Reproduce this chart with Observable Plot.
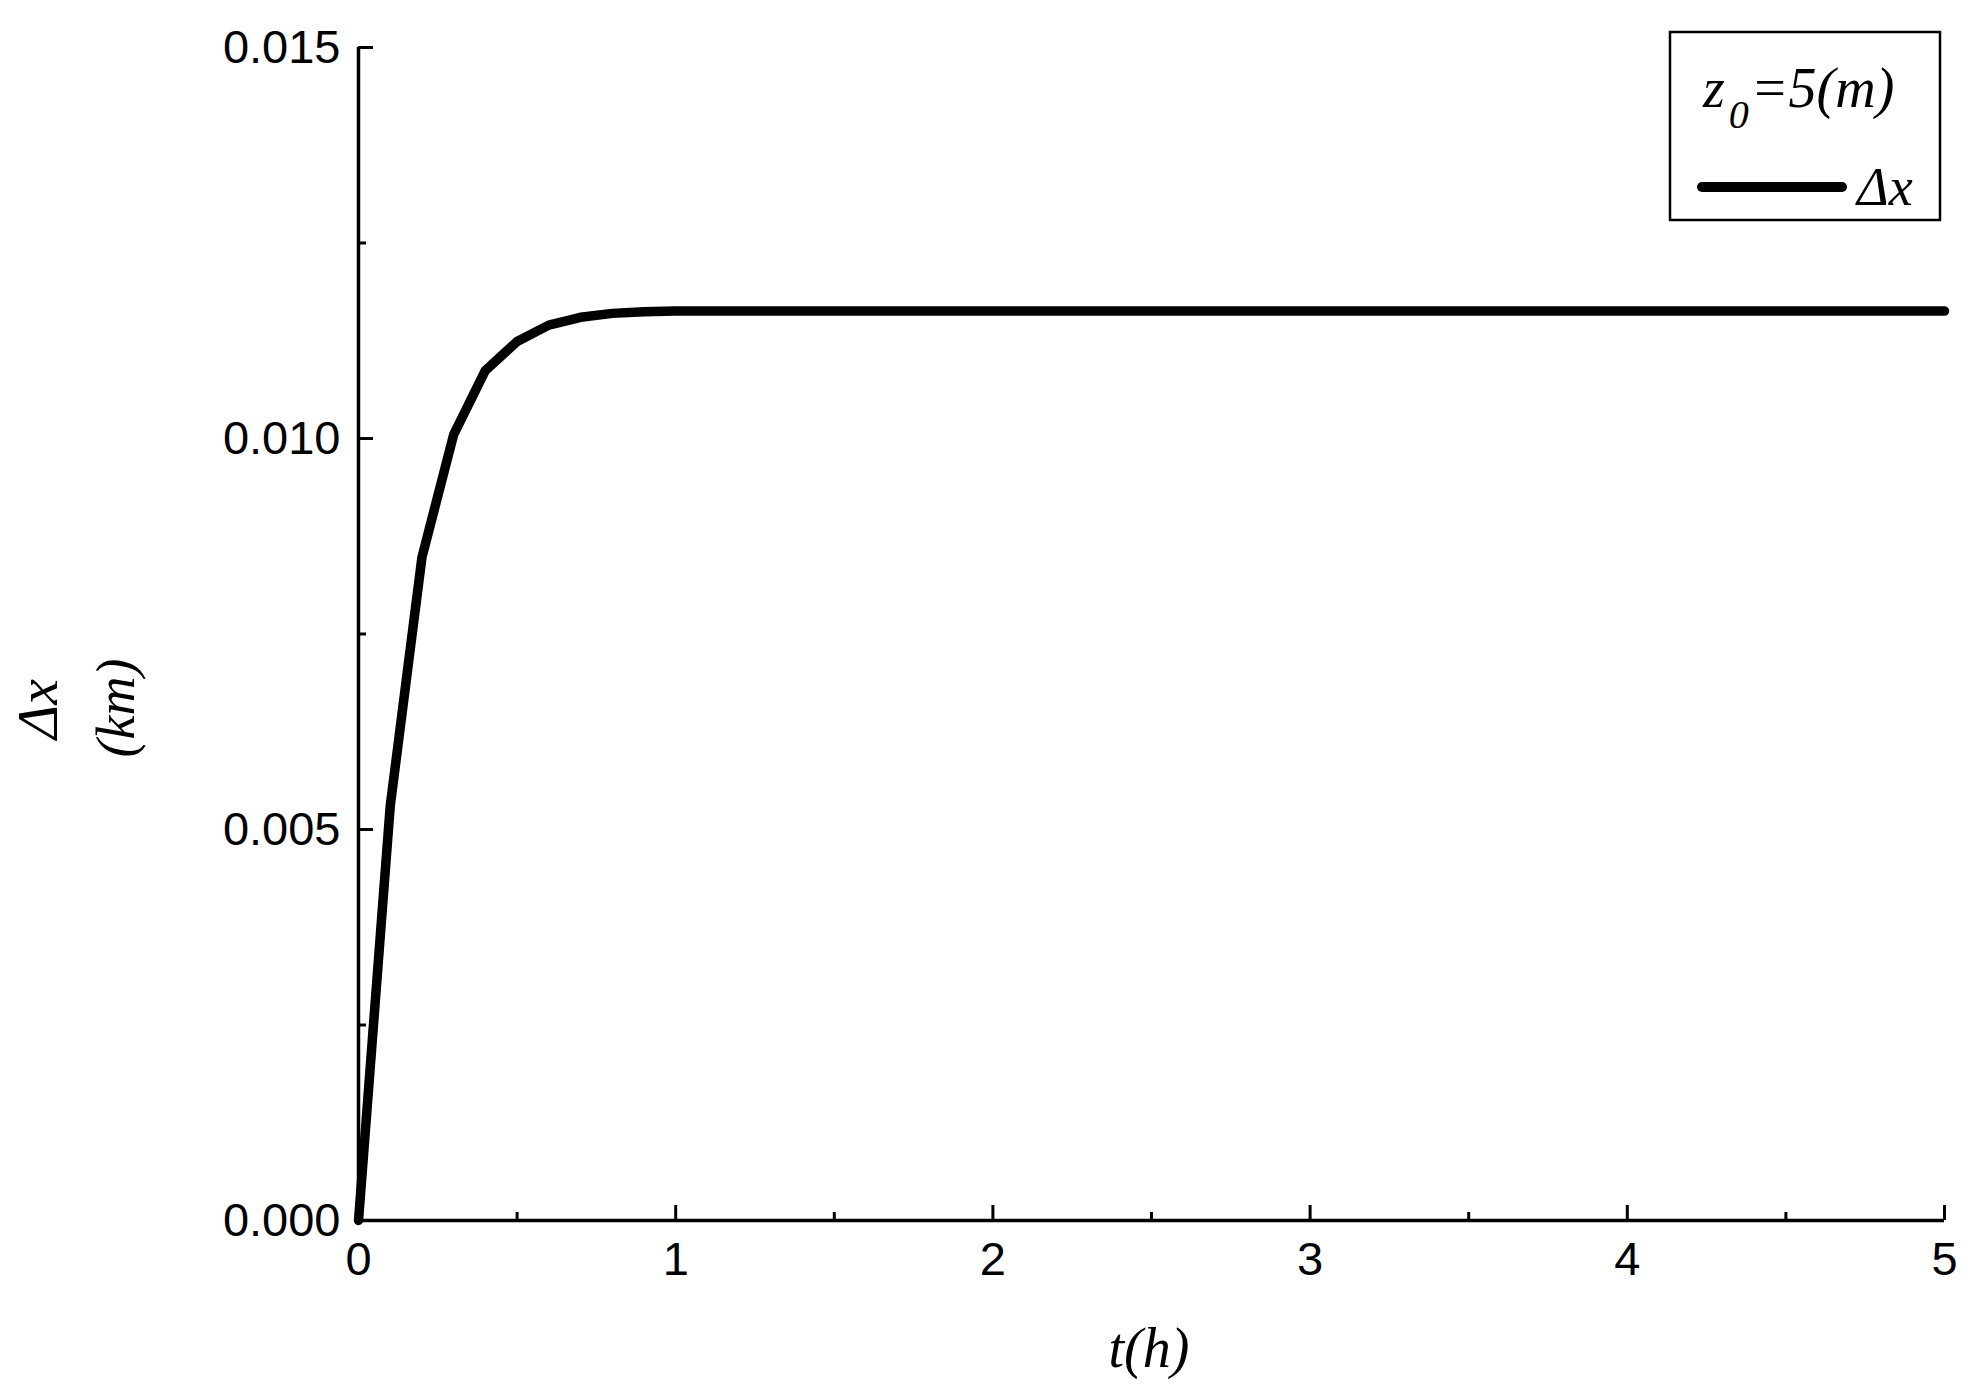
<!DOCTYPE html>
<html>
<head>
<meta charset="utf-8">
<script src="https://cdn.jsdelivr.net/npm/d3@7"></script>
<script src="https://cdn.jsdelivr.net/npm/@observablehq/plot@0.6"></script>
<style>
  html, body { margin: 0; padding: 0; background: #fff; }
  #chart { width: 1976px; height: 1398px; overflow: hidden; }
</style>
</head>
<body>
<div id="chart"></div>
<script>
// ---- data ----
const tValues  = [0, 0.1, 0.2, 0.3, 0.4, 0.5, 0.6, 0.7, 0.8, 0.9, 1.0, 1.5, 2.0, 2.5, 3.0, 3.5, 4.0, 4.5, 5.0];
const dxValues = [0, 0.00530, 0.00848, 0.01005, 0.01087, 0.01124, 0.01145, 0.01155, 0.01160, 0.01162, 0.01163,
                  0.01163, 0.01163, 0.01163, 0.01163, 0.01163, 0.01163, 0.01163, 0.01163];
const xMajorTicks = [0, 1, 2, 3, 4, 5];
const xMinorTicks = [0.5, 1.5, 2.5, 3.5, 4.5];
const yMajorTicks = [0, 0.005, 0.010, 0.015];
const yMinorTicks = [0.0025, 0.0075, 0.0125];
const xTitle = "t(h)";
const yTitleLines = ["Δx", "(km)"];
const legendHeader = {base: "z", sub: "0", rest: "=5(m)"};
const legendSeries = "Δx";

const data = tValues.map((t, i) => ({t, v: dxValues[i]}));

const W = 1976, H = 1398;
const mL = 358, mR = 32, mT = 47, mB = 178;
const plotW = W - mL - mR, plotH = H - mT - mB;

const chart = Plot.plot({
  width: W, height: H,
  marginLeft: mL, marginRight: mR, marginTop: mT, marginBottom: mB,
  style: {background: "#fff", color: "#000", fontFamily: "'Liberation Sans', Arial, sans-serif", fontSize: "47px"},
  x: {domain: [0, 5]},
  y: {domain: [0, 0.015]},
  marks: [
    Plot.axisX({ticks: xMajorTicks, tickSize: 0, tickPadding: 21, tickFormat: d => String(d), label: null, fontSize: 47}),
    Plot.axisY({ticks: yMajorTicks, tickSize: 0, tickPadding: 18, tickFormat: d3.format(".3f"), label: null, fontSize: 47}),
    Plot.tickX(xMajorTicks, {x: d => d, insetTop: plotH - 15, stroke: "#000", strokeWidth: 3}),
    Plot.tickX(xMinorTicks, {x: d => d, insetTop: plotH - 8, stroke: "#000", strokeWidth: 3}),
    Plot.tickY(yMajorTicks, {y: d => d, insetRight: plotW - 15, stroke: "#000", strokeWidth: 3}),
    Plot.tickY(yMinorTicks, {y: d => d, insetRight: plotW - 8, stroke: "#000", strokeWidth: 3}),
    Plot.ruleX([0], {stroke: "#000", strokeWidth: 3.5}),
    Plot.ruleY([0], {stroke: "#000", strokeWidth: 3.5}),
    Plot.line(data, {x: "t", y: "v", stroke: "#000", strokeWidth: 9.5, strokeLinejoin: "round"})
  ]
});

document.getElementById("chart").appendChild(chart);

// ---- titles and legend ----
const svg = d3.select(chart);
const serif = "'Liberation Serif', 'Times New Roman', serif";

svg.append("text")
  .attr("x", 1149).attr("y", 1367)
  .attr("text-anchor", "middle")
  .style("font-family", serif).style("font-style", "italic").style("font-size", "56px")
  .attr("fill", "#000")
  .text(xTitle);

svg.append("text")
  .attr("transform", "translate(57,709) rotate(-90)")
  .attr("text-anchor", "middle")
  .style("font-family", serif).style("font-style", "italic").style("font-size", "58px")
  .attr("fill", "#000")
  .text(yTitleLines[0]);

svg.append("text")
  .attr("transform", "translate(134,708) rotate(-90)")
  .attr("text-anchor", "middle")
  .style("font-family", serif).style("font-style", "italic").style("font-size", "54px")
  .attr("fill", "#000")
  .text(yTitleLines[1]);

const lg = svg.append("g");
lg.append("rect")
  .attr("x", 1670).attr("y", 32).attr("width", 270).attr("height", 188)
  .attr("fill", "#fff").attr("stroke", "#000").attr("stroke-width", 2.5);

const hdr = lg.append("text")
  .attr("x", 1703).attr("y", 107)
  .attr("text-anchor", "start")
  .style("font-family", serif).style("font-style", "italic").style("font-size", "56px")
  .attr("fill", "#000");
hdr.append("tspan").text(legendHeader.base);
hdr.append("tspan").attr("dy", 21).attr("dx", 4).style("font-size", "40px").text(legendHeader.sub);
hdr.append("tspan").attr("dy", -21).attr("dx", 2).text(legendHeader.rest);

lg.append("line")
  .attr("x1", 1702).attr("x2", 1842).attr("y1", 187).attr("y2", 187)
  .attr("stroke", "#000").attr("stroke-width", 10).attr("stroke-linecap", "round");

lg.append("text")
  .attr("x", 1857).attr("y", 205)
  .attr("text-anchor", "start")
  .style("font-family", serif).style("font-style", "italic").style("font-size", "54px")
  .attr("fill", "#000")
  .text(legendSeries);
</script>
</body>
</html>
